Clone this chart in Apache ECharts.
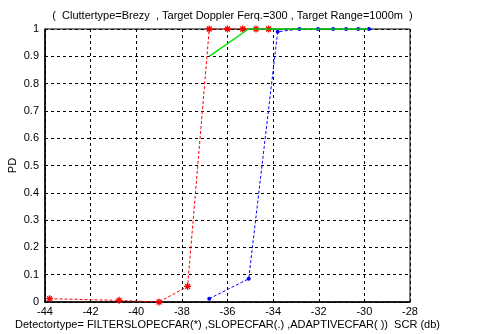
<!DOCTYPE html>
<html>
<head>
<meta charset="utf-8">
<script src="https://cdn.jsdelivr.net/npm/echarts@6/dist/echarts.min.js"></script>
<style>
  html, body { margin: 0; padding: 0; background: #fff; }
  #chart { width: 501px; height: 334px; }
</style>
</head>
<body>
<div id="chart"></div>
<script>
// SCR (db) vs PD
const filterSlopeScr = [-43.8, -40.75, -39.0, -37.75, -36.8, -36.0, -35.33, -34.75, -34.2];
const filterSlopePd  = [0.012, 0.006, 0.0, 0.057, 1, 1, 1, 1, 1];

const slopeScr = [-36.8, -35.07, -33.8, -32.85, -32.03, -31.37, -30.8, -30.27, -29.8];
const slopePd  = [0.012, 0.085, 0.99, 1, 1, 1, 1, 1, 1];

const adaptiveScr = [-36.8, -35.08, -29.83];
const adaptivePd  = [0.9, 1, 1];

const titleText = '(  Cluttertype=Brezy  , Target Doppler Ferq.=300 , Target Range=1000m  )';
const xName = 'Detectortype= FILTERSLOPECFAR(*) ,SLOPECFAR(.) ,ADAPTIVECFAR( ))  SCR (db)';

const pair = (xs, ys) => xs.map((x, i) => [x, ys[i]]);

// asterisk marker like matlab '*'
const star = 'path://M5,0 L5,10 M0,5 L10,5 M1.5,1.5 L8.5,8.5 M8.5,1.5 L1.5,8.5';

const font = 'Liberation Sans, Arial, sans-serif';
const gridLine = { show: true, lineStyle: { color: '#000', type: [3, 3], width: 1 } };

const chart = echarts.init(document.getElementById('chart'));
chart.setOption({
  animation: false,
  backgroundColor: '#fff',
  title: {
    text: titleText,
    left: 227.5,
    textAlign: 'center',
    top: 5,
    textStyle: { fontFamily: font, fontSize: 11, fontWeight: 'normal', color: '#000' }
  },
  grid: {
    left: 45, right: 91, top: 29, bottom: 32,
    outerBoundsMode: 'none',
    containLabel: false,
    show: true, borderColor: '#000', borderWidth: 1
  },
  xAxis: {
    type: 'value',
    min: -44, max: -28, interval: 2,
    name: xName,
    nameLocation: 'middle',
    nameGap: 17,
    nameMoveOverlap: false,
    nameTextStyle: { fontFamily: font, fontSize: 11, color: '#000' },
    axisLine: { lineStyle: { color: '#000', width: 1.5 } },
    axisTick: { inside: true, length: 3, lineStyle: { color: '#000' } },
    axisLabel: { fontFamily: font, fontSize: 11, color: '#000', margin: 4 },
    splitLine: gridLine
  },
  yAxis: {
    type: 'value',
    min: 0, max: 1, interval: 0.1,
    name: 'PD',
    nameLocation: 'middle',
    nameGap: 27,
    nameMoveOverlap: false,
    nameTextStyle: { fontFamily: font, fontSize: 11, color: '#000' },
    axisLine: { lineStyle: { color: '#000', width: 1.5 } },
    axisTick: { inside: true, length: 3, lineStyle: { color: '#000' } },
    axisLabel: { fontFamily: font, fontSize: 11, color: '#000', margin: 6 },
    splitLine: gridLine
  },
  series: [
    {
      name: 'FILTERSLOPECFAR',
      type: 'line',
      data: pair(filterSlopeScr, filterSlopePd),
      symbol: star,
      symbolSize: 7,
      showAllSymbol: true,
      itemStyle: { color: '#ff0000', borderColor: '#ff0000', borderWidth: 1.3 },
      lineStyle: { color: '#ff0000', width: 1, type: [3, 2] },
      z: 3
    },
    {
      name: 'SLOPECFAR',
      type: 'line',
      data: pair(slopeScr, slopePd),
      symbol: 'circle',
      symbolSize: 4,
      showAllSymbol: true,
      itemStyle: { color: '#0000ff' },
      lineStyle: { color: '#0000ff', width: 1, type: [3, 2] },
      z: 2
    },
    {
      name: 'ADAPTIVECFAR',
      type: 'line',
      data: pair(adaptiveScr, adaptivePd),
      symbol: 'none',
      lineStyle: { color: '#00e000', width: 1.5 },
      z: 4
    }
  ]
});
</script>
</body>
</html>
